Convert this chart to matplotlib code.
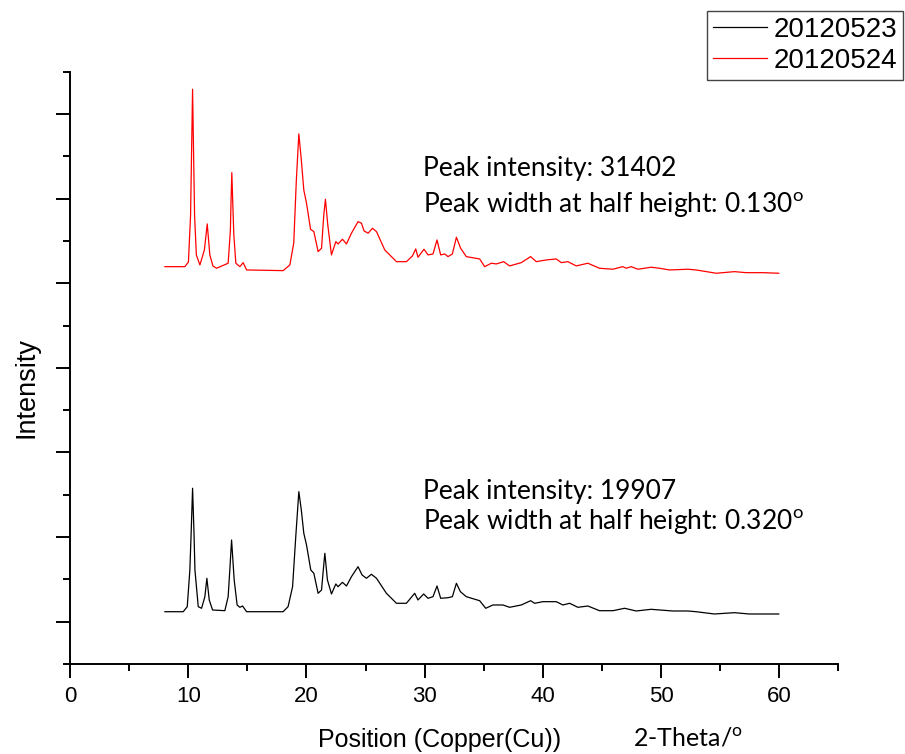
import matplotlib
matplotlib.use('Agg')
import matplotlib.pyplot as plt
from matplotlib.ticker import MultipleLocator, NullFormatter

matplotlib.rcParams.update({'font.family': ['Liberation Sans', 'DejaVu Sans'],
                            'mathtext.fontset': 'custom',
                            'mathtext.rm': 'Lato'})

# ── data (2-theta in degrees, intensity in arbitrary units) ──
theta_0524 = [8.03, 9.72, 10.02, 10.20, 10.28, 10.37, 10.46, 10.54, 10.69, 10.99,
              11.37, 11.61, 11.83, 12.09, 12.40, 13.38, 13.57, 13.62, 13.69, 13.77,
              13.86, 14.03, 14.37, 14.65, 14.94, 18.03, 18.60, 18.93, 19.15, 19.36,
              19.57, 19.78, 20.01, 20.35, 20.63, 20.99, 21.28, 21.47, 21.61, 21.81,
              22.12, 22.49, 22.68, 23.05, 23.39, 23.81, 24.37, 24.66, 24.88, 25.22,
              25.59, 25.93, 26.63, 27.62, 28.46, 28.97, 29.25, 29.44, 29.95, 30.29,
              30.71, 31.05, 31.36, 31.70, 31.98, 32.35, 32.69, 33.05, 33.53, 34.66,
              35.08, 35.65, 36.07, 36.69, 37.19, 38.18, 38.97, 39.45, 40.30, 41.14,
              41.56, 42.12, 42.83, 43.81, 44.80, 45.93, 46.77, 47.06, 47.48, 48.04,
              49.17, 49.87, 50.72, 52.27, 52.97, 54.67, 56.21, 57.20, 58.61, 59.96]
int_0524 = [9392, 9392, 9503, 10600, 12000, 13586, 12000, 10600, 9669, 9432,
            9787, 10402, 9669, 9409, 9354, 9473, 10260, 10900, 11614, 10900,
            10142, 9473, 9392, 9487, 9314, 9298, 9432, 9952, 11442, 12529,
            11915, 11205, 10891, 10276, 10220, 9747, 9827, 10614, 10985, 10378,
            9669, 9983, 9929, 10040, 9929, 10182, 10456, 10418, 10236, 10182,
            10300, 10220, 9787, 9510, 9510, 9645, 9811, 9614, 9803, 9669,
            9692, 10023, 9669, 9692, 9629, 9692, 10087, 9827, 9629, 9574,
            9392, 9473, 9456, 9510, 9409, 9487, 9629, 9510, 9551, 9574,
            9487, 9510, 9409, 9473, 9354, 9331, 9392, 9354, 9392, 9331,
            9378, 9354, 9314, 9331, 9314, 9236, 9274, 9250, 9250, 9236]

theta_0523 = [8.03, 9.58, 9.92, 10.14, 10.25, 10.37, 10.49, 10.57, 10.85, 11.13,
              11.41, 11.58, 11.78, 12.06, 13.10, 13.38, 13.52, 13.67, 13.89, 14.14,
              14.37, 14.60, 14.94, 18.03, 18.45, 18.83, 19.10, 19.36, 19.57, 19.78,
              20.01, 20.37, 20.63, 20.99, 21.28, 21.43, 21.56, 21.78, 22.12, 22.49,
              22.68, 23.05, 23.39, 23.81, 24.37, 24.71, 25.08, 25.50, 25.93, 26.77,
              27.62, 28.46, 29.16, 29.44, 29.92, 30.29, 30.71, 31.05, 31.36, 31.98,
              32.35, 32.69, 33.03, 33.53, 34.66, 35.17, 35.78, 36.63, 37.19, 38.18,
              38.97, 39.31, 40.01, 41.14, 41.70, 42.27, 42.97, 43.81, 44.80, 45.93,
              46.92, 47.90, 49.17, 49.87, 51.00, 52.27, 52.97, 54.52, 56.21, 57.48,
              59.96]
int_0523 = [1236, 1236, 1355, 2222, 3100, 4154, 3100, 2222, 1355, 1317,
            1591, 2026, 1513, 1277, 1260, 1591, 2222, 2931, 1986, 1395,
            1340, 1371, 1236, 1236, 1355, 1827, 3009, 4073, 3641, 3090,
            2813, 2222, 2144, 1671, 1749, 2222, 2617, 1986, 1655, 1891,
            1827, 1931, 1844, 2064, 2300, 2104, 2026, 2121, 2026, 1671,
            1435, 1435, 1671, 1513, 1655, 1553, 1591, 1844, 1553, 1567,
            1591, 1908, 1709, 1591, 1496, 1317, 1395, 1395, 1340, 1395,
            1496, 1435, 1473, 1473, 1395, 1435, 1340, 1371, 1260, 1260,
            1317, 1253, 1293, 1277, 1253, 1253, 1236, 1182, 1213, 1182,
            1182]

labels = ['20120523', '20120524']
notes_0524 = ['Peak intensity: 31402', 'Peak width at half height: 0.130$^\\mathrm{o}$']
notes_0523 = ['Peak intensity: 19907', 'Peak width at half height: 0.320$^\\mathrm{o}$']

W, H = 905, 754
fig = plt.figure(figsize=(W / 100, H / 100), dpi=100)
ax = fig.add_axes([70 / W, (H - 664) / H, (838.3 - 70) / W, (664 - 71.7) / H])

l1, = ax.plot(theta_0523, int_0523, color='black', lw=0.9)
l2, = ax.plot(theta_0524, int_0524, color='red', lw=0.9)

ax.set_xlim(0, 65)
ax.set_ylim(0, 14000)
ax.xaxis.set_major_locator(MultipleLocator(10))
ax.xaxis.set_minor_locator(MultipleLocator(5))
ax.set_yticks(range(1000, 14000, 2000))
ax.set_yticks(range(0, 14001, 2000), minor=True)
ax.yaxis.set_major_formatter(NullFormatter())
ax.tick_params(which='major', direction='out', length=10, width=1.4, labelsize=16, pad=6)
ax.tick_params(which='minor', direction='out', length=5, width=1.4)
for s in ('top', 'right'):
    ax.spines[s].set_visible(False)
for s in ('left', 'bottom'):
    ax.spines[s].set_linewidth(1.4)

# annotations (Calibri-like font)
note_font = dict(family='Lato', fontsize=19, va='center', ha='left', transform=ax.transAxes)
ax.text(0.460, 0.836, notes_0524[0], **note_font)
ax.text(0.460, 0.775, notes_0524[1], **note_font)
ax.text(0.460, 0.292, notes_0523[0], **note_font)
ax.text(0.460, 0.239, notes_0523[1], **note_font)

fig.text(27 / W, 1 - 388 / H, 'Intensity', rotation=90, ha='center', va='center', fontsize=19.5)
fig.text(440 / W, 1 - 740 / H, 'Position (Copper(Cu))', ha='center', va='center', fontsize=18)
fig.text(633 / W, 1 - 738 / H, '2-Theta/$^\\mathrm{o}$', ha='left', va='center',
         fontsize=18, family='Lato')

leg = fig.legend([l1, l2], labels, loc='upper right', bbox_to_anchor=(903 / W, 1 - 11 / H),
                 fontsize=20, frameon=True, fancybox=False, edgecolor='#444444',
                 framealpha=1, borderpad=0.2, labelspacing=0.2, handlelength=1.95,
                 handletextpad=0.25, borderaxespad=0)
leg.get_frame().set_linewidth(1.0)

fig.savefig('out.png', dpi=100)
